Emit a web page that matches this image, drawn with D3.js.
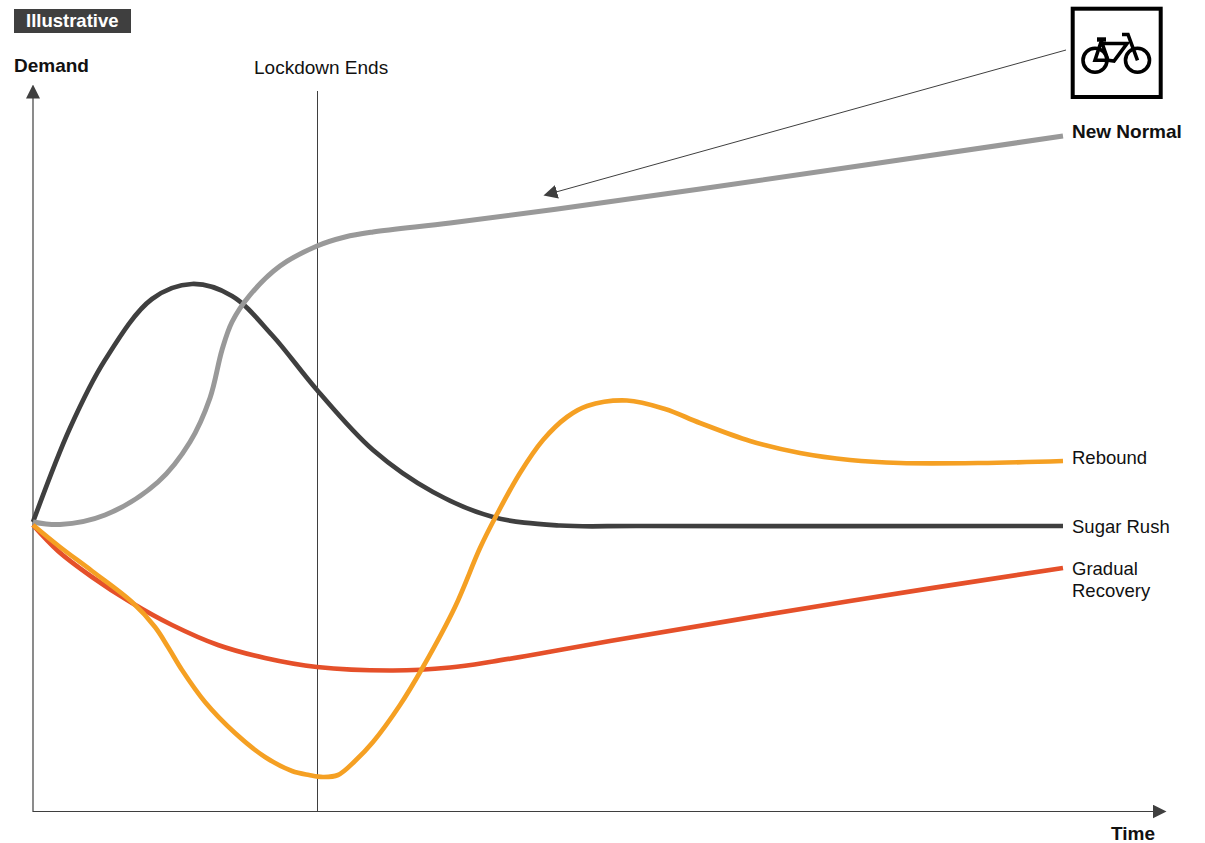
<!DOCTYPE html>
<html>
<head>
<meta charset="utf-8">
<script src="https://cdn.jsdelivr.net/npm/d3@7/dist/d3.min.js"></script>
<style>
html,body{margin:0;padding:0;background:#fff}
svg{display:block}
text{font-family:"Liberation Sans",Arial,sans-serif;font-size:19px;fill:#111}
.series-label{font-size:18.5px}
</style>
</head>
<body>
<svg id="chart" width="1205" height="843"></svg>
<script>
// Time runs 0..1030 and demand 0..725 in arbitrary units.
const sugarRushTime   = [0,37,72,119,159,199,239,284,340,400,460,527,607,1030];
const sugarRushDemand = [289,383,451,512,527,515,476,421,361,319,294,285.5,285,285];

const newNormalTime   = [0,27,72,125,157,177,189,199,217,247,284,312,340,417,517,667,1030];
const newNormalDemand = [289,286.5,296,329,369,413,461,489,516,545,565,574,579,588,601,622,675];

const reboundTime   = [0,27,59,99,122,135,149,172,202,232,259,276,290,305,322,340,367,390,422,447,462,487,510,534,554,594,632,667,717,767,817,867,947,1030];
const reboundDemand = [286,264,240,209,184,164,141,109,78,54,40,36,34,36,50,69,106,144,204,263,293,338,371,394,405,410.5,402,388,370,358,351,348,348,350];

const gradualTime   = [0,25,59,99,139,185,232,284,360,417,460,510,577,817,1030];
const gradualDemand = [286,260,234,208,186,166,153,144,140.5,143.5,149.5,158,170,210,243];

const seriesNames  = ["Sugar Rush","New Normal","Gradual Recovery","Rebound"];
const seriesColors = ["#3f3f3f","#999999","#e5502a","#f5a023"];
const seriesWidths = [4.7,5,4.7,4.7];
const seriesTimes  = [sugarRushTime,newNormalTime,gradualTime,reboundTime];
const seriesValues = [sugarRushDemand,newNormalDemand,gradualDemand,reboundDemand];

const lockdownTime = 284.5;

const svg = d3.select("#chart");
const x = d3.scaleLinear().domain([0,1030]).range([33,1063]);
const y = d3.scaleLinear().domain([0,725]).range([811,86]);

const defs = svg.append("defs");
defs.append("marker").attr("id","tip").attr("viewBox","0 0 14 14")
  .attr("refX",1).attr("refY",7).attr("markerWidth",14).attr("markerHeight",14)
  .attr("markerUnits","userSpaceOnUse").attr("orient","auto")
  .append("path").attr("d","M0,0L14,7L0,14Z").attr("fill","#3f3f3f");

// Axes: plain lines with arrowheads and no ticks
const xAxis = svg.append("g").attr("transform",`translate(0,${y(0)})`)
  .call(d3.axisBottom(d3.scaleLinear().domain([0,1120]).range([32.5,1153])).tickValues([]).tickSizeOuter(0));
xAxis.select(".domain").attr("stroke","#3f3f3f").attr("stroke-width",1.2).attr("marker-end","url(#tip)");
const yAxis = svg.append("g").attr("transform","translate(32.5,0)")
  .call(d3.axisLeft(d3.scaleLinear().domain([0,715]).range([811.5,97])).tickValues([]).tickSizeOuter(0));
yAxis.select(".domain").attr("stroke","#3f3f3f").attr("stroke-width",1.2).attr("marker-end","url(#tip)");

// Lockdown marker
svg.append("line").attr("x1",x(lockdownTime)).attr("x2",x(lockdownTime))
  .attr("y1",91).attr("y2",y(0)).attr("stroke","#3f3f3f").attr("stroke-width",1);
svg.append("text").attr("x",254).attr("y",74).text("Lockdown Ends");

// Demand curves
const line = d3.line().x(d=>x(d[0])).y(d=>y(d[1])).curve(d3.curveCatmullRom.alpha(0.5));
seriesNames.forEach((name,i)=>{
  svg.append("path")
    .datum(d3.zip(seriesTimes[i],seriesValues[i]))
    .attr("d",line).attr("fill","none")
    .attr("stroke",seriesColors[i]).attr("stroke-width",seriesWidths[i]);
});

// Series labels
const lx = 1072;
svg.append("text").attr("x",lx).attr("y",138).attr("font-weight","bold").text(seriesNames[1]);
svg.append("text").attr("class","series-label").attr("x",lx).attr("y",533).text(seriesNames[0]);
svg.append("text").attr("class","series-label").attr("x",lx).attr("y",464).text(seriesNames[3]);
const parts = seriesNames[2].split(" ");
svg.append("text").attr("class","series-label").attr("x",lx).attr("y",575).text(parts[0]);
svg.append("text").attr("class","series-label").attr("x",lx).attr("y",597).text(parts[1]);

// Axis titles and tag
svg.append("text").attr("x",14).attr("y",72).attr("font-weight","bold").text("Demand");
svg.append("text").attr("x",1111).attr("y",840).attr("font-weight","bold").text("Time");
svg.append("rect").attr("x",14).attr("y",9).attr("width",117).attr("height",24).attr("fill","#3f3f3f");
svg.append("text").attr("x",26).attr("y",26.5).attr("font-weight","bold").style("font-size","18.5px").style("fill","#fff").text("Illustrative");

// Callout from the icon to the New Normal curve
svg.append("line").attr("x1",1066).attr("y1",50).attr("x2",556).attr("y2",192)
  .attr("stroke","#3f3f3f").attr("stroke-width",1).attr("marker-end","url(#tip)");

// Bicycle icon
const icon = svg.append("g");
icon.append("rect").attr("x",1072.7).attr("y",8.7).attr("width",88).attr("height",88.3)
  .attr("fill","#fff").attr("stroke","#000").attr("stroke-width",4);
const bike = icon.append("g").attr("fill","none").attr("stroke","#000").attr("stroke-width",3.6);
bike.append("circle").attr("cx",1095).attr("cy",60.3).attr("r",12);
bike.append("circle").attr("cx",1137.5).attr("cy",60.3).attr("r",12);
bike.append("path").attr("d","M1101,40L1108,60.3L1095,60.3L1101,42M1102,43.5L1127,43.5L1114,61L1108,60.3");
bike.append("path").attr("d","M1122,34.5L1128,34.5L1137.5,60.3");
bike.append("path").attr("d","M1097,39.5L1106,39.5").attr("stroke-width",4.4);
</script>
</body>
</html>
